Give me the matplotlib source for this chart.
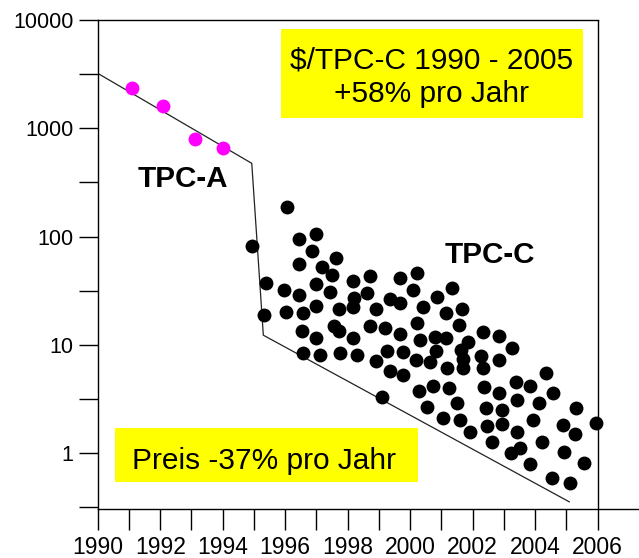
import matplotlib
matplotlib.use("Agg")
import matplotlib.pyplot as plt
from matplotlib.patches import Rectangle
from matplotlib.ticker import FixedLocator, NullFormatter

plt.rcParams['font.family'] = ['Liberation Sans', 'DejaVu Sans']

# TPC-A Messpunkte ($/tpsA)
tpca_year = [1991.1, 1992.1, 1993.1, 1994.0]
tpca_price = [2370, 1620, 796, 662]

# TPC-C Messpunkte ($/tpmC)
tpcc_year = [
    1994.93, 1995.38, 1995.32, 1996.07, 1996.45, 1996.99, 1996.87, 1996.45, 1997.17, 1997.63,
    1997.51, 1995.97, 1996.45, 1997.00, 1997.43, 1996.02, 1996.56, 1996.99, 1997.73, 1996.53,
    1997.00, 1996.58, 1997.11, 1997.55, 1997.71, 1997.75,
    1998.18, 1998.71, 1998.20, 1998.61, 1998.18, 1998.91, 1999.35, 1999.67, 1999.67, 2000.23,
    2000.10, 1998.71, 1999.19, 1998.18, 1999.67, 2000.22, 2000.31, 1998.29, 1998.89, 1999.25,
    1999.78, 2000.17, 1999.35, 1999.78, 1999.09, 2000.28, 2000.42,
    2001.33, 2000.86, 2001.15, 2001.67, 2001.57, 2000.79, 2001.15, 2001.85, 2002.32, 2002.84,
    2003.27, 2000.81, 2001.63, 2001.69, 2002.25, 2002.83, 2000.63, 2001.17, 2001.70, 2002.34,
    2000.73, 2001.24, 2002.36, 2002.85, 2000.54, 2001.50, 2002.41, 2002.93, 2001.04, 2001.59,
    2001.91, 2002.45, 2002.93, 2002.61, 2003.21,
    2004.36, 2003.39, 2003.83, 2004.58, 2003.42, 2004.13, 2005.29, 2003.94, 2004.90, 2005.95,
    2003.41, 2005.27, 2004.22, 2003.51, 2004.92, 2003.82, 2005.57, 2004.55, 2005.11,
]
tpcc_price = [
    82, 37.3, 18.9, 187, 94.4, 105, 74.4, 55.5, 51.9, 64.1,
    44.2, 32.1, 28.9, 36.5, 30.5, 20.3, 19.6, 22.9, 21.3, 13.4,
    11.5, 8.36, 8.07, 15.1, 13.4, 8.42,
    39.2, 43.5, 26.9, 30.3, 22.5, 21.3, 26.4, 24.2, 41.2, 45.8,
    32.1, 15.0, 14.3, 11.6, 12.6, 15.8, 11.2, 8.07, 7.10, 8.88,
    8.65, 7.26, 5.74, 5.27, 3.30, 3.79, 22.5,
    33.3, 27.9, 19.6, 21.5, 15.3, 11.9, 11.5, 10.6, 13.2, 12.1,
    9.36, 8.88, 8.97, 7.41, 7.90, 7.26, 6.95, 6.08, 6.12, 6.08,
    4.17, 4.04, 4.11, 3.57, 2.69, 2.89, 2.60, 2.51, 2.10, 2.03,
    1.58, 1.80, 1.85, 1.28, 1.00,
    5.47, 4.57, 4.17, 3.60, 3.10, 2.94, 2.64, 2.03, 1.82, 1.89,
    1.58, 1.49, 1.28, 1.11, 1.03, 0.79, 0.81, 0.59, 0.53,
]

# untere Preisgrenze (Huellkurve)
bound_year = [1990.04, 1994.93, 1995.30, 2005.09]
bound_price = [3170, 475, 12.3, 0.356]

year_ticks = list(range(1990, 2007, 2))
year_minor = list(range(1991, 2007, 2))
price_ticks = [1, 10, 100, 1000, 10000]
price_minor = [10 ** (k + 0.5) for k in range(-1, 4)]

W, H = 639, 558


def fx(px):
    return px / W


def fy(py):
    return 1 - py / H


fig = plt.figure(figsize=(W / 100, H / 100), dpi=100)
ax = fig.add_axes([fx(97.7), fy(508.7), 1 - fx(97.7), fy(20) - fy(508.7)])
ax.set_yscale('log')
ax.set_xlim(1990, 1990 + (W - 97.7) / 31.25)
ax.set_ylim(10 ** -0.512, 1e4)

ax.plot(bound_year, bound_price, color='#222222', lw=0.9, zorder=2)
ax.scatter(tpcc_year, tpcc_price, s=100, color='black', linewidths=0, zorder=3)
ax.scatter(tpca_year, tpca_price, s=100, color='#ff00ff', linewidths=0, zorder=3)

# Rahmen: oben nur bis 2006, senkrechte Linie bei 2006
ax.plot([1990, 2006], [1e4, 1e4], color='black', lw=1.0, clip_on=False)
ax.axvline(2006, color='black', lw=1.0)
ax.spines['top'].set_visible(False)
ax.spines['right'].set_visible(False)
for s in ['left', 'bottom']:
    ax.spines[s].set_linewidth(1.0)

ax.xaxis.set_major_locator(FixedLocator(year_ticks))
ax.xaxis.set_minor_locator(FixedLocator(year_minor))
ax.yaxis.set_major_locator(FixedLocator(price_ticks))
ax.yaxis.set_minor_locator(FixedLocator(price_minor))
ax.yaxis.set_minor_formatter(NullFormatter())
ax.set_xticklabels([str(y) for y in year_ticks])
ax.set_yticklabels([str(p) for p in price_ticks])
ax.tick_params(axis='x', which='both', direction='out', length=15, width=1.0, pad=4.5, labelsize=16.5)
ax.tick_params(axis='y', which='both', direction='out', length=13.7, width=1.0, pad=3.6, labelsize=15.5)

# gelbe Kaesten
fig.patches.append(Rectangle((fx(281), fy(118)), fx(583) - fx(281), fy(29) - fy(118),
                             transform=fig.transFigure, facecolor='#ffff00', edgecolor='none', zorder=5))
fig.patches.append(Rectangle((fx(115), fy(482)), fx(418.3) - fx(115), fy(427.7) - fy(482),
                             transform=fig.transFigure, facecolor='#ffff00', edgecolor='none', zorder=5))
fig.text(fx(432), fy(68.3), '$/TPC-C 1990 - 2005', ha='center', va='baseline', fontsize=21.5, zorder=6)
fig.text(fx(432), fy(101.7), '+58% pro Jahr', ha='center', va='baseline', fontsize=21.5, zorder=6)
fig.text(fx(132.5), fy(469.3), 'Preis -37% pro Jahr', ha='left', va='baseline', fontsize=21.5, zorder=6)

fig.text(fx(138), fy(186.7), 'TPC-A', ha='left', va='baseline', fontsize=21.3, fontweight='bold')
fig.text(fx(445), fy(263), 'TPC-C', ha='left', va='baseline', fontsize=21.3, fontweight='bold')

fig.savefig('out.png', dpi=100)
